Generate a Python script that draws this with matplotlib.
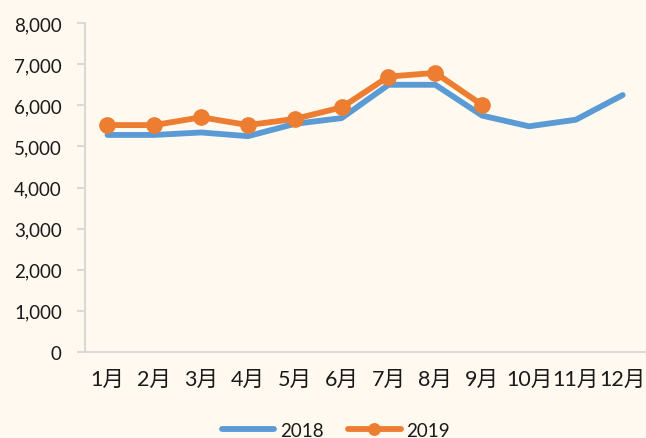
"""
Monthly comparison line chart, 2018 vs 2019.
"""

import matplotlib.pyplot as plt
from matplotlib.ticker import FuncFormatter

months = ["1月", "2月", "3月", "4月", "5月", "6月",
          "7月", "8月", "9月", "10月", "11月", "12月"]
values_2018 = [5280, 5280, 5340, 5250, 5550, 5690, 6500, 6500, 5750, 5490, 5650, 6250]
values_2019 = [5520, 5520, 5710, 5520, 5670, 5950, 6700, 6790, 6010]

BG = "#FFF9EF"
BLUE = "#5B9BD5"
ORANGE = "#ED7D31"
AXIS = "#D9D9D9"

plt.rcParams['font.family'] = ['Lato', 'Noto Sans CJK SC', 'DejaVu Sans']

fig = plt.figure(figsize=(6.46, 4.39), dpi=100, facecolor=BG)
ax = fig.add_axes([0.1323, 0.196, 0.87, 0.749])
ax.set_facecolor(BG)

x18 = list(range(len(values_2018)))
x19 = list(range(len(values_2019)))
ax.plot(x18, values_2018, color=BLUE, lw=4.2, solid_capstyle='round',
        solid_joinstyle='round', label="2018", clip_on=False)
ax.plot(x19, values_2019, color=ORANGE, lw=4.2, marker='o', markersize=11,
        solid_capstyle='round', solid_joinstyle='round', label="2019", clip_on=False)

ax.set_xlim(-0.47, 11.53)
ax.set_ylim(0, 8000)
ax.set_yticks(range(0, 8001, 1000))
ax.yaxis.set_major_formatter(FuncFormatter(lambda v, p: f"{int(v):,}"))
ax.set_xticks(x18)
ax.set_xticklabels(months)

for side in ['top', 'right']:
    ax.spines[side].set_visible(False)
for side in ['left', 'bottom']:
    ax.spines[side].set_color(AXIS)
    ax.spines[side].set_linewidth(1.5)

ax.tick_params(axis='y', length=6, width=1.5, color=AXIS, labelsize=13.5,
               labelcolor="#1a1a1a", pad=11)
ax.tick_params(axis='x', length=0, labelsize=15.5, labelcolor="#1a1a1a", pad=12)

leg = fig.legend(loc='lower center', bbox_to_anchor=(0.52, -0.04), ncol=2,
                 frameon=False, fontsize=13.5, handlelength=2.8, columnspacing=1.3,
                 handletextpad=0.3, markerscale=0.75)
for t in leg.get_texts():
    t.set_color("#1a1a1a")

fig.savefig("out.png", dpi=100, facecolor=BG)
